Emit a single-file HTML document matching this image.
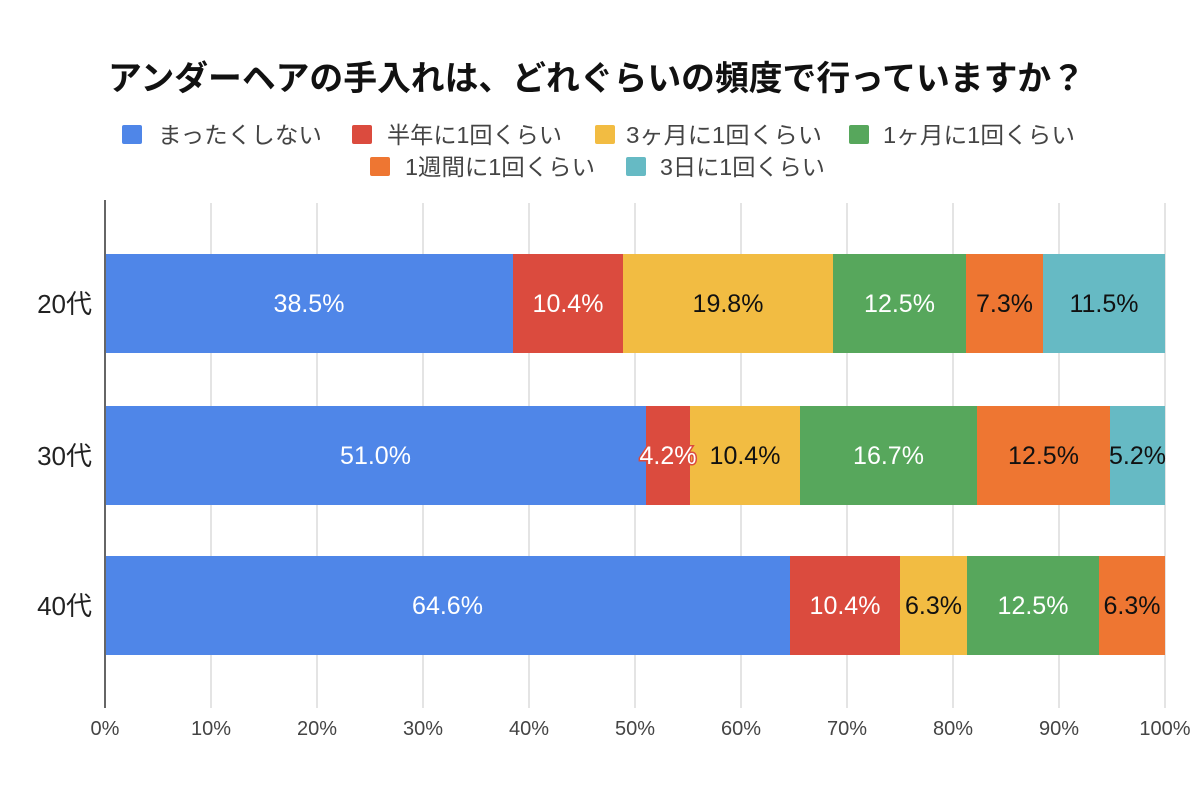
<!DOCTYPE html>
<html>
<head>
<meta charset="utf-8">
<style>
  html, body { margin:0; padding:0; background:#ffffff; }
  body { width:1200px; height:800px; overflow:hidden; }
  svg { display:block; }
  .jp { font-family: "Liberation Sans", "Noto Sans CJK JP", sans-serif; }
  .num { font-family: "Liberation Sans", sans-serif; }
</style>
</head>
<body>
<svg width="1200" height="800" viewBox="0 0 1200 800" xmlns="http://www.w3.org/2000/svg">
  <rect x="0" y="0" width="1200" height="800" fill="#ffffff"/>

  <!-- Title -->
  <text class="jp" x="108" y="90" font-size="34" font-weight="bold" fill="#111" textLength="977" lengthAdjust="spacingAndGlyphs">アンダーヘアの手入れは、どれぐらいの頻度で行っていますか？</text>

  <!-- Legend row 1 -->
  <g class="jp" font-size="23" fill="#444">
    <rect x="122" y="125" width="20" height="19" rx="2" fill="#4f86e8"/>
    <text x="158" y="143" textLength="164" lengthAdjust="spacingAndGlyphs">まったくしない</text>
    <rect x="352" y="125" width="20" height="19" rx="2" fill="#db4b3e"/>
    <text x="387" y="143" textLength="175" lengthAdjust="spacingAndGlyphs">半年に1回くらい</text>
    <rect x="595" y="125" width="20" height="19" rx="2" fill="#f2bc42"/>
    <text x="626" y="143" textLength="196" lengthAdjust="spacingAndGlyphs">3ヶ月に1回くらい</text>
    <rect x="849" y="125" width="20" height="19" rx="2" fill="#57a75c"/>
    <text x="883" y="143" textLength="192" lengthAdjust="spacingAndGlyphs">1ヶ月に1回くらい</text>
    <!-- Legend row 2 -->
    <rect x="370" y="157" width="20" height="19" rx="2" fill="#ee7632"/>
    <text x="405" y="175" textLength="190" lengthAdjust="spacingAndGlyphs">1週間に1回くらい</text>
    <rect x="626" y="157" width="20" height="19" rx="2" fill="#66bac4"/>
    <text x="660" y="175" textLength="165" lengthAdjust="spacingAndGlyphs">3日に1回くらい</text>
  </g>

  <!-- Gridlines -->
  <g stroke="#dcdcdc" stroke-width="1.5">
    <line x1="211" y1="203" x2="211" y2="708"/>
    <line x1="317" y1="203" x2="317" y2="708"/>
    <line x1="423" y1="203" x2="423" y2="708"/>
    <line x1="529" y1="203" x2="529" y2="708"/>
    <line x1="635" y1="203" x2="635" y2="708"/>
    <line x1="741" y1="203" x2="741" y2="708"/>
    <line x1="847" y1="203" x2="847" y2="708"/>
    <line x1="953" y1="203" x2="953" y2="708"/>
    <line x1="1059" y1="203" x2="1059" y2="708"/>
    <line x1="1165" y1="203" x2="1165" y2="708"/>
  </g>

  <!-- Bars: 20代 -->
  <g>
    <rect x="105" y="254" width="408" height="99" fill="#4f86e8"/>
    <rect x="513" y="254" width="110" height="99" fill="#db4b3e"/>
    <rect x="623" y="254" width="210" height="99" fill="#f2bc42"/>
    <rect x="833" y="254" width="133" height="99" fill="#57a75c"/>
    <rect x="966" y="254" width="77" height="99" fill="#ee7632"/>
    <rect x="1043" y="254" width="122" height="99" fill="#66bac4"/>
  </g>
  <!-- Bars: 30代 -->
  <g>
    <rect x="105" y="406" width="541" height="99" fill="#4f86e8"/>
    <rect x="646" y="406" width="44" height="99" fill="#db4b3e"/>
    <rect x="690" y="406" width="110" height="99" fill="#f2bc42"/>
    <rect x="800" y="406" width="177" height="99" fill="#57a75c"/>
    <rect x="977" y="406" width="133" height="99" fill="#ee7632"/>
    <rect x="1110" y="406" width="55" height="99" fill="#66bac4"/>
  </g>
  <!-- Bars: 40代 -->
  <g>
    <rect x="105" y="556" width="685" height="99" fill="#4f86e8"/>
    <rect x="790" y="556" width="110" height="99" fill="#db4b3e"/>
    <rect x="900" y="556" width="67" height="99" fill="#f2bc42"/>
    <rect x="967" y="556" width="132" height="99" fill="#57a75c"/>
    <rect x="1099" y="556" width="66" height="99" fill="#ee7632"/>
  </g>

  <!-- Axis line -->
  <line x1="105" y1="200" x2="105" y2="708" stroke="#666" stroke-width="2"/>

  <!-- Bar labels -->
  <g class="num" font-size="25" text-anchor="middle">
    <text x="309" y="312" fill="#ffffff">38.5%</text>
    <text x="568" y="312" fill="#ffffff">10.4%</text>
    <text x="728" y="312" fill="#111">19.8%</text>
    <text x="899.5" y="312" fill="#ffffff">12.5%</text>
    <text x="1004.5" y="312" fill="#111">7.3%</text>
    <text x="1104" y="312" fill="#111">11.5%</text>

    <text x="375.5" y="464" fill="#ffffff">51.0%</text>
    <text x="668" y="464" fill="#ffffff" stroke="#db4b3e" stroke-width="3" paint-order="stroke">4.2%</text>
    <text x="745" y="464" fill="#111">10.4%</text>
    <text x="888.5" y="464" fill="#ffffff">16.7%</text>
    <text x="1043.5" y="464" fill="#111">12.5%</text>
    <text x="1137.5" y="464" fill="#111">5.2%</text>

    <text x="447.5" y="614" fill="#ffffff">64.6%</text>
    <text x="845" y="614" fill="#ffffff">10.4%</text>
    <text x="933.5" y="614" fill="#111">6.3%</text>
    <text x="1033" y="614" fill="#ffffff">12.5%</text>
    <text x="1132" y="614" fill="#111">6.3%</text>
  </g>

  <!-- Category labels -->
  <g class="jp" font-size="26" fill="#222" text-anchor="end">
    <text x="92" y="313">20代</text>
    <text x="92" y="465">30代</text>
    <text x="92" y="615">40代</text>
  </g>

  <!-- X tick labels -->
  <g class="num" font-size="20" fill="#444" text-anchor="middle">
    <text x="105" y="735">0%</text>
    <text x="211" y="735">10%</text>
    <text x="317" y="735">20%</text>
    <text x="423" y="735">30%</text>
    <text x="529" y="735">40%</text>
    <text x="635" y="735">50%</text>
    <text x="741" y="735">60%</text>
    <text x="847" y="735">70%</text>
    <text x="953" y="735">80%</text>
    <text x="1059" y="735">90%</text>
    <text x="1165" y="735">100%</text>
  </g>
</svg>
</body>
</html>
